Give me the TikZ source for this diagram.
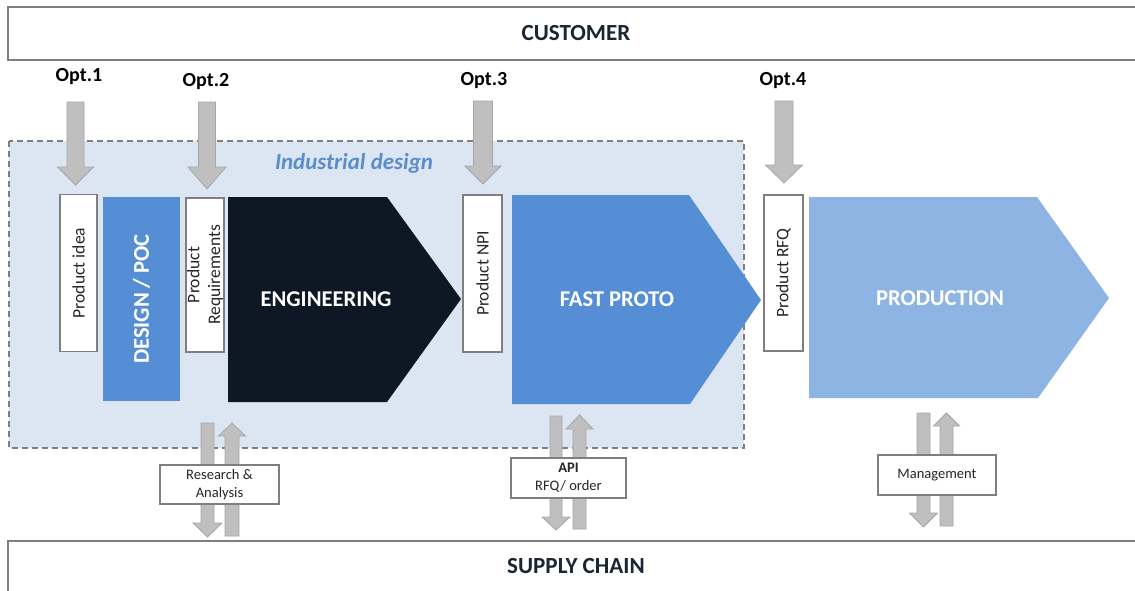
\documentclass[tikz,border=0pt]{standalone}
\usepackage{fontspec}
\setmainfont{Carlito}
\definecolor{bandtxt}{HTML}{1B2633}
\definecolor{edgegray}{HTML}{7F7F7F}
\definecolor{zonefill}{HTML}{DCE6F2}
\definecolor{zonetxt}{HTML}{5B8CCB}
\definecolor{engfill}{HTML}{0D1824}
\definecolor{protofill}{HTML}{558ED5}
\definecolor{prodfill}{HTML}{8EB4E3}
\definecolor{flowfill}{HTML}{BFBFBF}
\definecolor{flowedge}{HTML}{A6A6A6}
\definecolor{tagtxt}{HTML}{262626}

% block arrow: centre x, base y, head y, tip y, shaft half width, head half width
\newcommand\blockarrow[6]{%
  \draw[flowarrow] (#1-#5,#2) -- (#1+#5,#2) -- (#1+#5,#3) -- (#1+#6,#3)
    -- (#1,#4) -- (#1-#6,#3) -- (#1-#5,#3) -- cycle;}

\begin{document}
\begin{tikzpicture}[x=0.75pt,y=-0.75pt,
  band/.style={draw=edgegray, line width=1.5pt, fill=white},
  bandlabel/.style={font=\fontsize{17.3}{20}\selectfont\bfseries, text=bandtxt},
  optlabel/.style={font=\fontsize{15}{18}\selectfont\bfseries, text=black},
  zone/.style={draw=edgegray, line width=1.1pt, fill=zonefill, dash pattern=on 4.5pt off 3pt},
  zonelabel/.style={font=\fontsize{17.2}{20}\selectfont\bfseries\itshape, text=zonetxt},
  flowarrow/.style={fill=flowfill, draw=flowedge, line width=0.6pt},
  tagbox/.style={draw=edgegray, line width=1.1pt, fill=white, rotate=90, inner sep=0pt,
    text=tagtxt, font=\fontsize{13.2}{15.5}\selectfont, align=center},
  stagelabel/.style={font=\fontsize{16.9}{20}\selectfont\bfseries, text=white},
  flowbox/.style={draw=edgegray, line width=1.1pt, fill=white, inner sep=0pt, align=center,
    text=tagtxt, font=\fontsize{10.9}{13.2}\selectfont},
]
\useasboundingbox (0,0) rectangle (1135,590);

% customer and supply chain bands
\draw[band] (8,7) rectangle (1150,60);
\node[bandlabel] (customer) at (576,33) {CUSTOMER};
\draw[band] (8,541) rectangle (1150,600);
\node[bandlabel] (supply) at (576,566) {SUPPLY CHAIN};

% industrial design zone
\draw[zone] (9,141) rectangle (744,448);
\node[zonelabel] (indus) at (354,163) {Industrial design};

% option entry points
\node[optlabel] (opt1) at (79,77) {Opt.1};
\node[optlabel] (opt2) at (206,82) {Opt.2};
\node[optlabel] (opt3) at (484,81) {Opt.3};
\node[optlabel] (opt4) at (783,81) {Opt.4};
\blockarrow{75.5}{102}{167}{185}{8.5}{18}
\blockarrow{207}{102}{167}{189}{8.5}{19}
\blockarrow{483}{101}{166}{184}{9.5}{18}
\blockarrow{784}{101}{165}{183}{9}{18.5}

% stages
\node[tagbox, minimum width=117.75pt, minimum height=27.75pt] (idea) at (78.5,273) {Product idea};
\node[rotate=90, fill=protofill, inner sep=0pt, minimum width=153pt, minimum height=57.75pt,
  stagelabel] (design) at (141.5,299) {DESIGN / POC};
\node[tagbox, minimum width=115.5pt, minimum height=28.5pt] (req) at (205,275) {Product\\Requirements};

\fill[engfill] (228,197) -- (387,197) -- (461,299) -- (387,402) -- (228,402) -- cycle;
\node[stagelabel] (eng) at (326,299) {ENGINEERING};

\node[tagbox, minimum width=117.75pt, minimum height=29.25pt] (npi) at (482.5,273.5) {Product NPI};

\fill[protofill] (512,195) -- (689,195) -- (761,300) -- (690,404) -- (512,404) -- cycle;
\node[stagelabel] (proto) at (617,299) {FAST PROTO};

\node[tagbox, minimum width=117pt, minimum height=29.25pt] (rfq) at (783.5,273) {Product RFQ};

\fill[prodfill] (809,197) -- (1037,197) -- (1109,298) -- (1038,398) -- (809,398) -- cycle;
\node[stagelabel] (prod) at (940,298) {PRODUCTION};

% supply chain exchanges
\blockarrow{207.5}{423}{523}{537}{6.5}{14.5}
\blockarrow{232}{536}{436}{423}{7}{13.5}
\node[flowbox, minimum width=89.25pt, minimum height=29.25pt] (research) at (219.5,484.5) {Research \&\\Analysis};

\blockarrow{556}{416}{517}{530}{6}{14}
\blockarrow{579.5}{529}{429}{415}{6.5}{13.5}
\node[flowbox, minimum width=86.25pt, minimum height=30pt] (api) at (568.5,478) {\textbf{API}\\RFQ/ order};

\blockarrow{923.5}{413}{513}{527}{6.5}{14}
\blockarrow{946.5}{526}{426}{413}{6.5}{13}
\node[flowbox, minimum width=88.5pt, minimum height=30pt] (mgmt) at (937,475) {Management};
\end{tikzpicture}
\end{document}
